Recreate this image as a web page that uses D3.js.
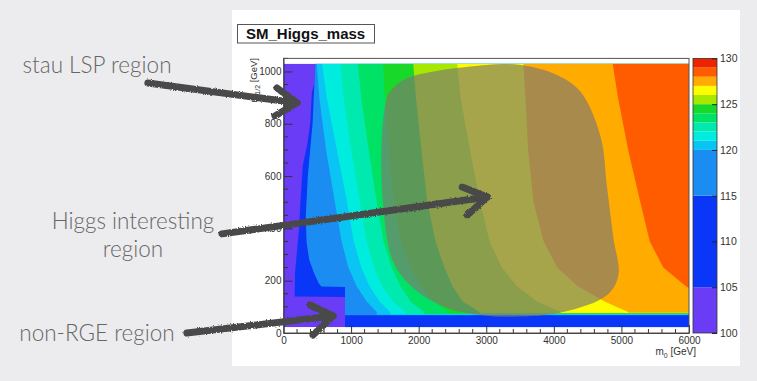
<!DOCTYPE html>
<html><head><meta charset="utf-8">
<script src="https://cdn.jsdelivr.net/npm/d3@7"></script>
<style>
html,body{margin:0;padding:0;background:#ececee;}
svg{display:block;}
</style></head><body>
<svg id="c" width="757" height="381"></svg>
<script>
// Higgs mass contour levels (GeV) and the band colours between them
const levels = [100, 105, 115, 120, 121, 122, 123, 124, 125, 126, 127, 128, 129, 130];
const palette = ["#6a3cf6", "#0a36f8", "#1a8cf2", "#0ac4f4", "#00ecde", "#00eab0",
                 "#00e266", "#18d92a", "#a6e800", "#fdfd00", "#ffab00", "#ff5c00", "#ee2400"];

// Axis ticks
const xTicks = [0, 1000, 2000, 3000, 4000, 5000, 6000];
const yTicks = [0, 200, 400, 600, 800, 1000];
const zTicks = [100, 105, 110, 115, 120, 125, 130];

// Contour boundaries: m0 (GeV) where the mass crosses each level, at common m1/2 rows
const rowsM12 = [1030, 900, 700, 500, 350, 250, 180, 120, 80];
const edge120 = [490, 530, 630, 760, 860, 960, 1080, 1230, 1380];
const edge121 = [570, 640, 790, 940, 1040, 1150, 1270, 1420, 1580];
const edge122 = [840, 890, 1000, 1130, 1230, 1340, 1460, 1620, 1800];
const edge123 = [1100, 1150, 1260, 1380, 1480, 1600, 1730, 1880, 2080];
const edge124 = [1475, 1500, 1560, 1630, 1740, 1880, 2030, 2220, 2450];
const edge125 = [1920, 1960, 2040, 2130, 2250, 2380, 2500, 2650, 2900];
const edge126 = [2570, 2620, 2760, 2910, 3050, 3230, 3450, 3750, 4100];
const edge127 = [3550, 3580, 3620, 3700, 3850, 4050, 4350, 4750, 5100];
const edge128 = [4870, 4950, 5100, 5280, 5420, 5620, 5950, 6300, 6600];

// Stau-LSP edge (105) with the non-RGE block at low m1/2, and the 115 contour
const edge105M12 = [1030, 960, 920, 800, 720, 640, 500, 400, 230, 140, 138];
const edge105M0  = [467, 460, 420, 395, 350, 285, 250, 230, 170, 165, 910];
const edge115M12 = [1030, 800, 600, 450, 350, 280, 230, 190, 178, 176];
const edge115M0  = [470, 430, 360, 330, 340, 380, 450, 520, 560, 910];

// Lower m1/2 end of each band (levels 105 ... 128) along the bottom strip
const stripM12 = [22, 68, 69.5, 70.7, 71.9, 73.1, 74.3, 75.5, 76.7, 77.9, 79];

// Extent of the computed grid
const gridM0 = [0, 6000];
const gridM12 = [22, 1030];

// Highlighted "Higgs interesting" region outline (m0, m1/2)
const higgsM0  = [1578, 1825, 3010, 3511, 4047, 4393, 4689, 4788, 4881, 4956, 4788, 4141, 3400, 2911, 2418, 1918, 1622, 1474, 1455, 1529];
const higgsM12 = [923, 974, 1025, 1025, 987, 923, 753, 555, 363, 222, 145, 80, 62, 69, 96, 172, 273, 489, 746, 899];

// Annotation arrows (shaft start, tip, two head ends) in (m0, m1/2)
const arrows = [
  {from: [-2007, 956], tip: [200, 880], arms: [[-96, 937], [-126, 830]]},
  {from: [-911, 379], tip: [3015, 520], arms: [[2644, 558], [2719, 451]]},
  {from: [-1430, 0], tip: [733, 65], arms: [[393, 107], [437, -8]]}
];
const notes = [
  {lines: ["stau LSP region"], x: 97, y: 73},
  {lines: ["Higgs interesting", "region"], x: 133, y: 229},
  {lines: ["non-RGE region"], x: 97, y: 341}
];

const svg = d3.select("#c");
const W = 757, H = 381;

const x = d3.scaleLinear().domain([0, 6000]).range([283.5, 689]);
const y = d3.scaleLinear().domain([0, 1050]).range([333, 58.4]);
const z = d3.scaleLinear().domain([100, 130]).range([333, 58.4]);

const defs = svg.append("defs");
defs.append("clipPath").attr("id", "plotClip").append("rect")
  .attr("x", x(gridM0[0])).attr("y", y(gridM12[1]))
  .attr("width", x(gridM0[1]) - x(gridM0[0])).attr("height", y(gridM12[0]) - y(gridM12[1]));
const rough = defs.append("filter").attr("id", "rough").attr("x", "-10%").attr("y", "-30%").attr("width", "120%").attr("height", "160%");
rough.append("feTurbulence").attr("type", "fractalNoise").attr("baseFrequency", 0.8).attr("numOctaves", 2).attr("result", "n");
rough.append("feDisplacementMap").attr("in", "SourceGraphic").attr("in2", "n").attr("scale", 3);

// slide background and canvas panel
svg.append("rect").attr("width", W).attr("height", H).attr("fill", "#ececee");
svg.append("rect").attr("x", 232).attr("y", 10).attr("width", 508).attr("height", 356).attr("fill", "#ffffff");

// title box
svg.append("rect").attr("x", 237.5).attr("y", 24.5).attr("width", 137).attr("height", 18.5)
  .attr("fill", "#fff").attr("stroke", "#555").attr("stroke-width", 1);
svg.append("text").attr("x", 246).attr("y", 38.5).text("SM_Higgs_mass")
  .attr("font-family", "Liberation Sans, Arial, sans-serif").attr("font-weight", "bold")
  .attr("font-size", 15).attr("fill", "#111");

// filled contour bands
const plot = svg.append("g").attr("clip-path", "url(#plotClip)");
plot.append("rect")
  .attr("x", x(gridM0[0])).attr("y", y(gridM12[1]))
  .attr("width", x(gridM0[1]) - x(gridM0[0])).attr("height", y(gridM12[0]) - y(gridM12[1]))
  .attr("fill", palette[0]);

const contourSets = [
  {m12: edge105M12, m0: edge105M0},
  {m12: edge115M12, m0: edge115M0},
  {m12: rowsM12, m0: edge120},
  {m12: rowsM12, m0: edge121},
  {m12: rowsM12, m0: edge122},
  {m12: rowsM12, m0: edge123},
  {m12: rowsM12, m0: edge124},
  {m12: rowsM12, m0: edge125},
  {m12: rowsM12, m0: edge126},
  {m12: rowsM12, m0: edge127},
  {m12: rowsM12, m0: edge128}
];
const polyLine = d3.line().x(d => x(d[0])).y(d => y(d[1]));
contourSets.forEach((c, i) => {
  const pts = c.m12.map((v, k) => [c.m0[k], v]);
  const last = c.m0[c.m0.length - 1];
  pts.push([last, stripM12[i]], [6600, stripM12[i]], [6600, gridM12[1]]);
  plot.append("path").attr("d", polyLine(pts) + "Z").attr("fill", palette[i + 1]);
});

// highlighted region
const blob = d3.line().x((d, i) => x(higgsM0[i])).y((d, i) => y(higgsM12[i])).curve(d3.curveCatmullRomClosed.alpha(0.5));
svg.append("path").attr("d", blob(higgsM0)).attr("fill", "#7d7a70").attr("fill-opacity", 0.68);

// axes with inward ticks
const axisFont = "Liberation Sans, Arial, sans-serif";
const xMinor = d3.range(0, 6001, 200).filter(v => v % 1000 !== 0);
const yMinor = d3.range(0, 1051, 50).filter(v => v % 200 !== 0);

const gx = svg.append("g").attr("transform", `translate(0,${y(0)})`)
  .call(d3.axisBottom(x).tickValues(xTicks).tickFormat(d3.format("d")).tickSizeInner(-8).tickSizeOuter(0).tickPadding(4));
gx.append("g").selectAll("line").data(xMinor).join("line")
  .attr("x1", d => x(d)).attr("x2", d => x(d)).attr("y1", 0).attr("y2", -4).attr("stroke", "#333");
const gy = svg.append("g").attr("transform", `translate(${x(0)},0)`)
  .call(d3.axisLeft(y).tickValues(yTicks).tickFormat(d3.format("d")).tickSizeInner(-9).tickSizeOuter(0).tickPadding(2));
gy.append("g").selectAll("line").data(yMinor).join("line")
  .attr("y1", d => y(d)).attr("y2", d => y(d)).attr("x1", 0).attr("x2", 4.5).attr("stroke", "#333");
[gx, gy].forEach(g => {
  g.select(".domain").attr("stroke", "#333");
  g.selectAll(".tick line").attr("stroke", "#333");
  g.selectAll("text").attr("font-family", axisFont).attr("font-size", 10).attr("fill", "#333");
});
gy.selectAll(".tick text").attr("dy", "0.3em");

// frame
svg.append("rect").attr("x", x(0)).attr("y", y(1050)).attr("width", x(6000) - x(0)).attr("height", y(0) - y(1050))
  .attr("fill", "none").attr("stroke", "#555").attr("stroke-width", 1);

// axis titles
const xt = svg.append("text").attr("x", 696).attr("y", 355).attr("text-anchor", "end")
  .attr("font-family", axisFont).attr("font-size", 10).attr("fill", "#333");
xt.append("tspan").text("m");
xt.append("tspan").attr("font-size", 7).attr("dy", 3).text("0");
xt.append("tspan").attr("dy", -3).text(" [GeV]");
const yt = svg.append("text").attr("transform", `translate(257,58) rotate(-90)`).attr("text-anchor", "end")
  .attr("font-family", axisFont).attr("font-size", 9.5).attr("fill", "#333");
yt.append("tspan").text("m");
yt.append("tspan").attr("font-size", 7).attr("dy", 3).text("1/2");
yt.append("tspan").attr("dy", -3).text(" [GeV]");

// colour scale
const cbX = 693, cbW = 24;
svg.append("g").selectAll("rect").data(d3.range(levels.length - 1)).join("rect")
  .attr("x", cbX).attr("width", cbW)
  .attr("y", i => z(levels[i + 1])).attr("height", i => z(levels[i]) - z(levels[i + 1]))
  .attr("fill", i => palette[i]);
svg.append("rect").attr("x", cbX).attr("y", z(130)).attr("width", cbW).attr("height", z(100) - z(130))
  .attr("fill", "none").attr("stroke", "#333").attr("stroke-width", 0.8);
const gz = svg.append("g").attr("transform", `translate(${cbX + cbW},0)`)
  .call(d3.axisRight(z).tickValues(zTicks).tickSizeInner(-5).tickSizeOuter(0).tickPadding(3));
gz.select(".domain").remove();
gz.selectAll(".tick line").attr("stroke", "#222");
gz.selectAll("text").attr("font-family", axisFont).attr("font-size", 10.5).attr("fill", "#333");

// annotation arrows
const ag = svg.append("g").attr("filter", "url(#rough)").attr("stroke", "#4a4a4a").attr("stroke-width", 7)
  .attr("stroke-linecap", "round").attr("stroke-linejoin", "round").attr("fill", "none");
arrows.forEach(a => {
  ag.append("path").attr("d", polyLine([a.from, a.tip]));
  ag.append("path").attr("d", polyLine([a.arms[0], a.tip, a.arms[1]]));
});

// annotation text
notes.forEach(n => {
  const t = svg.append("text").attr("text-anchor", "middle").attr("font-family", "Lato, sans-serif")
    .attr("font-weight", 300).attr("font-size", 22.5).attr("fill", "#666");
  n.lines.forEach((s, i) => t.append("tspan").attr("x", n.x).attr("y", n.y + i * 28).text(s));
});
</script>
</body></html>
